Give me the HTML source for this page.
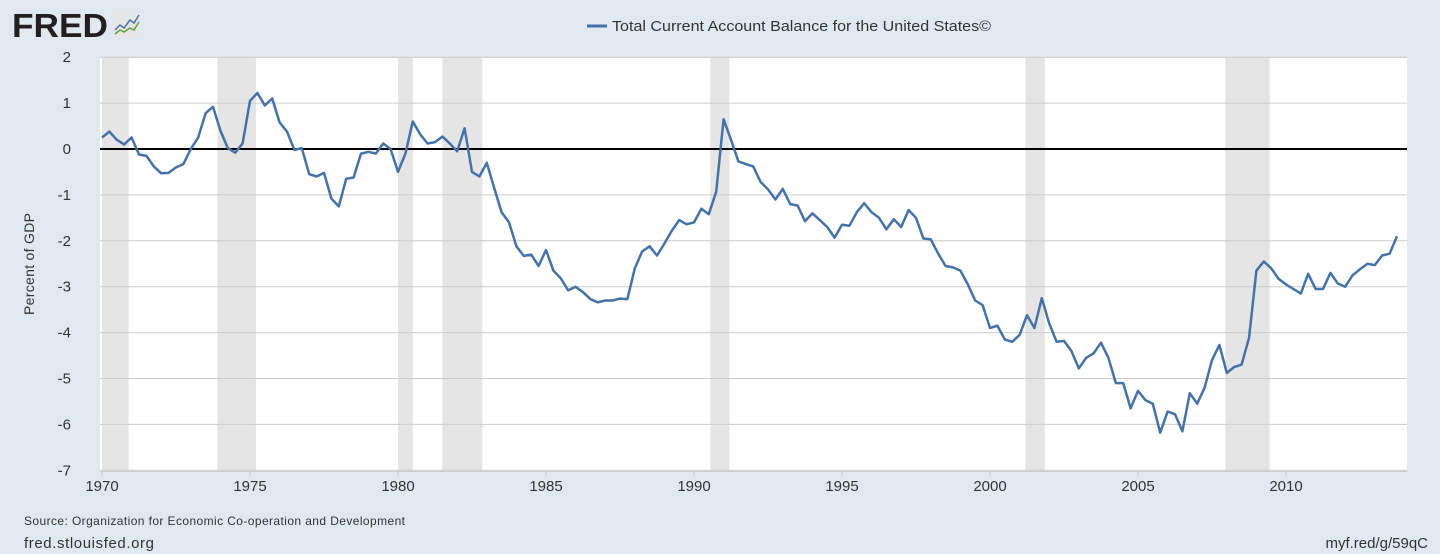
<!DOCTYPE html>
<html><head><meta charset="utf-8"><style>
body{margin:0;background:#e1e9f0;font-family:"Liberation Sans",sans-serif;}
#wrap{position:relative;width:1440px;height:554px;overflow:hidden;}
</style></head><body>
<div id="wrap">
<svg id="svg" width="1440" height="554" xmlns="http://www.w3.org/2000/svg">
<g>
<text x="12" y="37" font-size="33" font-weight="bold" fill="#231f20" font-family="Liberation Sans,sans-serif" textLength="96" lengthAdjust="spacingAndGlyphs">FRED</text>
<rect x="114" y="13" width="26" height="25" fill="#e6e6e6" rx="2"/>
<polyline points="115,30 120,25 124,28 130,20 134,23 139,15" fill="none" stroke="#4572a7" stroke-width="1.5"/>
<polyline points="115,34 120,30 124,32 130,28 134,30 139,22" fill="none" stroke="#60a040" stroke-width="1.5"/>
</g>
<g>
<line x1="587" y1="26" x2="607" y2="26" stroke="#4572a7" stroke-width="3"/>
<text x="612" y="31" font-size="15" fill="#333" textLength="379" lengthAdjust="spacingAndGlyphs">Total Current Account Balance for the United States©</text>
</g>
<rect x="100" y="58" width="1307" height="413" fill="#fff"/>
<g id="rec"></g><g id="grid"></g><g id="ser"></g><g id="axes"></g>
<text transform="translate(34,264) rotate(-90)" text-anchor="middle" font-size="14" fill="#333" textLength="102">Percent of GDP</text>
<text x="24" y="525" font-size="12" fill="#333" textLength="381">Source: Organization for Economic Co-operation and Development</text>
<text x="24" y="548" font-size="15" fill="#333" textLength="130">fred.stlouisfed.org</text>
<text x="1428" y="548" font-size="15" fill="#333" text-anchor="end">myf.red/g/59qC</text>
</svg>
</div>
<script>
const yTicks=[2,1,0,-1,-2,-3,-4,-5,-6,-7];
const xTicks=[1970,1975,1980,1985,1990,1995,2000,2005,2010];
const recessions=[[1970.0,1970.9],[1973.9,1975.2],[1980.0,1980.5],[1981.5,1982.85],[1990.55,1991.2],[2001.2,2001.85],[2007.95,2009.45]];
const startYear=1970;
const values=[0.25,0.38,0.2,0.1, 0.25,-0.12,-0.15,-0.38, -0.53,-0.52,-0.4,-0.33, 0.0,0.25,0.78,0.92,
0.4,0.02,-0.08,0.12, 1.05,1.22,0.95,1.1, 0.58,0.38,-0.02,0.02, -0.55,-0.6,-0.52,-1.08,
-1.25,-0.65,-0.62,-0.1, -0.06,-0.1,0.12,0.0, -0.5,-0.1,0.6,0.32, 0.12,0.15,0.27,0.12,
-0.05,0.45,-0.5,-0.6, -0.3,-0.85,-1.38,-1.6, -2.12,-2.33,-2.3,-2.55, -2.2,-2.65,-2.82,-3.08,
-3.0,-3.12,-3.27,-3.34, -3.3,-3.3,-3.26,-3.27, -2.6,-2.23,-2.12,-2.32, -2.06,-1.78,-1.55,-1.64,
-1.6,-1.3,-1.42,-0.93, 0.65,0.2,-0.27,-0.33, -0.38,-0.72,-0.88,-1.1, -0.87,-1.2,-1.23,-1.57,
-1.4,-1.55,-1.7,-1.93, -1.65,-1.67,-1.38,-1.18, -1.38,-1.5,-1.75,-1.53, -1.7,-1.33,-1.5,-1.95,
-1.97,-2.28,-2.55,-2.58, -2.65,-2.95,-3.3,-3.4, -3.9,-3.85,-4.15,-4.2, -4.05,-3.62,-3.9,-3.25,
-3.8,-4.2,-4.18,-4.4, -4.78,-4.55,-4.45,-4.22, -4.55,-5.1,-5.1,-5.65, -5.27,-5.47,-5.55,-6.18,
-5.72,-5.78,-6.15,-5.32, -5.55,-5.2,-4.6,-4.27, -4.88,-4.75,-4.7,-4.12, -2.65,-2.45,-2.6,-2.83,
-2.95,-3.05,-3.15,-2.72, -3.05,-3.05,-2.7,-2.93, -3.0,-2.75,-2.62,-2.5, -2.53,-2.32,-2.28,-1.9];
const NS="http://www.w3.org/2000/svg";
const X=t=>102+(t-1970)*29.6;
const Y=v=>149-v*45.9;
function mk(tag,attrs,parent){const e=document.createElementNS(NS,tag);for(const k in attrs)e.setAttribute(k,attrs[k]);document.getElementById(parent).appendChild(e);return e;}
recessions.forEach(r=>{const e=mk('rect',{x:X(r[0]),y:58,width:X(r[1])-X(r[0]),height:413,fill:'#e5e5e5'},'rec');

});
yTicks.forEach(v=>{const l=mk('line',{x1:100,x2:1407,y1:Y(v),y2:Y(v),stroke:v===0?'#000':'#ccc','stroke-width':v===0?2:1},'grid');


const t=mk('text',{x:71,y:Y(v)+5,'text-anchor':'end','font-size':15,fill:'#333'},'axes');t.textContent=v;

});
xTicks.forEach(yr=>{const t=mk('text',{x:X(yr),y:491,'text-anchor':'middle','font-size':15,fill:'#333'},'axes');t.textContent=yr;


const k=mk('line',{x1:X(yr),x2:X(yr),y1:471,y2:476,stroke:'#ccc'},'axes');

});
const xl=mk('line',{x1:100,x2:1407,y1:471.5,y2:471.5,stroke:'#ccc'},'axes');


const pts=values.map((v,i)=>X(startYear+i/4).toFixed(1)+','+Y(v).toFixed(1)).join(' ');
const p=mk('polyline',{points:pts,fill:'none',stroke:'#4572a7','stroke-width':2.5,'stroke-linejoin':'round'},'ser');


</script>
</body></html>
